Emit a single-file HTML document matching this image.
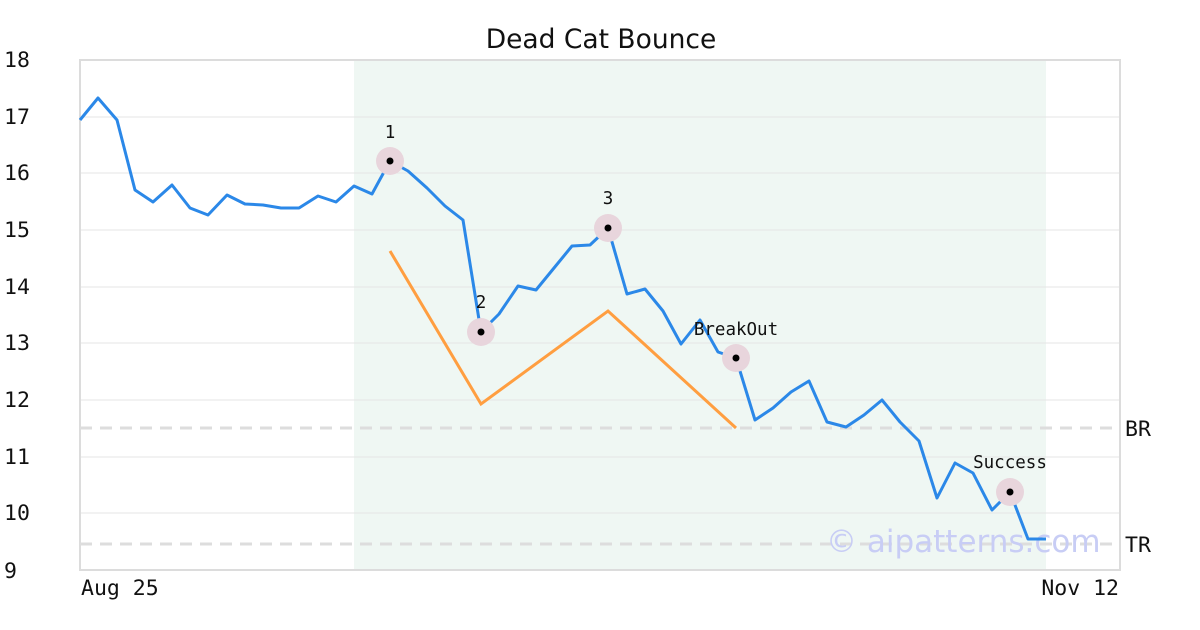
<!DOCTYPE html>
<html><head><meta charset="utf-8"><style>
html,body{margin:0;padding:0;background:#fff;width:1200px;height:630px;overflow:hidden}
</style></head><body>
<svg width="1200" height="630" xmlns="http://www.w3.org/2000/svg">
<rect x="0" y="0" width="1200" height="630" fill="#fff"/>
<rect x="354" y="60" width="692" height="510" fill="#eff7f3"/>
<g stroke="#e6e6e6" stroke-width="1">
<line x1="80" y1="117" x2="1120" y2="117"/><line x1="80" y1="173" x2="1120" y2="173"/>
<line x1="80" y1="230" x2="1120" y2="230"/><line x1="80" y1="287" x2="1120" y2="287"/>
<line x1="80" y1="343" x2="1120" y2="343"/><line x1="80" y1="400" x2="1120" y2="400"/>
<line x1="80" y1="457" x2="1120" y2="457"/><line x1="80" y1="513" x2="1120" y2="513"/>
</g>
<rect x="80" y="60" width="1040" height="510" fill="none" stroke="#dcdcdc" stroke-width="2"/>
<g stroke="#dddddd" stroke-width="3" stroke-dasharray="12,8">
<line x1="80" y1="428" x2="1120" y2="428"/><line x1="80" y1="544" x2="1120" y2="544"/>
</g>
<text x="826" y="552" font-family="DejaVu Sans, sans-serif" font-size="31" fill="#c8cdf5">© aipatterns.com</text>
<polyline fill="none" stroke="#ff9e40" stroke-width="3" points="390,251 481,404 608,311 736,428"/>
<polyline fill="none" stroke="#2b88e8" stroke-width="3" stroke-linejoin="round" points="80,120 98,98 117,120 135,190 153,202 172,185 190,208 208,215 227,195 245,204 263,205 281,208 299,208 318,196 336,202 354,186 372,194 390,161 408,171 427,188 445,206 463,220 481,332 499,314 518,286 536,290 554,268 572,246 590,245 608,228 627,294 645,289 663,311 681,344 700,320 718,352 736,358 755,420 773,408 791,392 809,381 827,422 846,427 864,415 882,400 900,422 919,441 937,498 955,463 973,473 992,510 1010,492 1028,539 1046,539"/>
<g fill="#e8d5dc">
<circle cx="390" cy="161" r="14"/><circle cx="481" cy="332" r="14"/><circle cx="608" cy="228" r="14"/><circle cx="736" cy="358" r="14"/><circle cx="1010" cy="492" r="14"/>
</g>
<g fill="#000">
<circle cx="390" cy="161" r="3.5"/><circle cx="481" cy="332" r="3.5"/><circle cx="608" cy="228" r="3.5"/><circle cx="736" cy="358" r="3.5"/><circle cx="1010" cy="492" r="3.5"/>
</g>
<g font-family="DejaVu Sans Mono, Liberation Mono, monospace" font-size="17.5" fill="#111" text-anchor="middle">
<text x="390" y="138">1</text><text x="481" y="308">2</text><text x="608" y="204">3</text>
<text x="736" y="335">BreakOut</text><text x="1010" y="468">Success</text>
</g>
<g font-family="DejaVu Sans Mono, Liberation Mono, monospace" font-size="21.5" fill="#111">
<text x="4" y="67">18</text><text x="4" y="124">17</text><text x="4" y="180">16</text>
<text x="4" y="237">15</text><text x="4" y="294">14</text><text x="4" y="350">13</text>
<text x="4" y="407">12</text><text x="4" y="464">11</text><text x="4" y="520">10</text>
<text x="4" y="578">9</text>
<text x="1125" y="436">BR</text><text x="1125" y="552">TR</text>
<text x="81" y="595">Aug 25</text><text x="1119" y="595" text-anchor="end">Nov 12</text>
</g>
<text x="601" y="48" text-anchor="middle" font-family="DejaVu Sans, Liberation Sans, sans-serif" font-size="26.5" fill="#111">Dead Cat Bounce</text>
</svg>
</body></html>
